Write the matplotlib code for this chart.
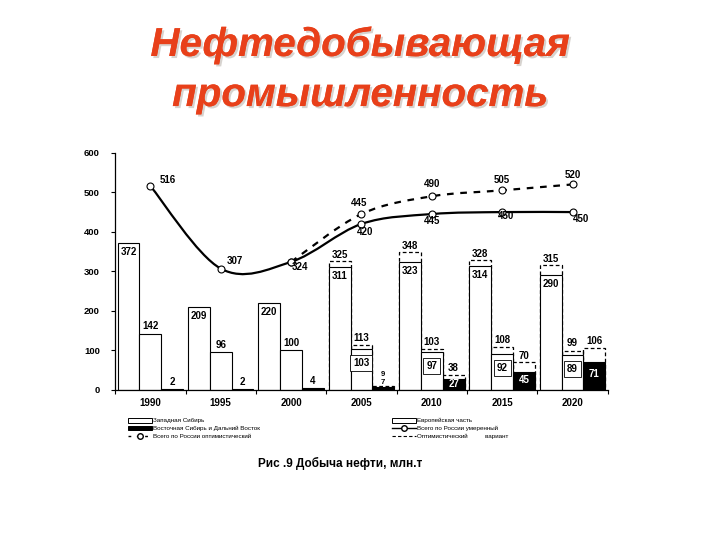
import numpy as np
import matplotlib
matplotlib.use("Agg")
import matplotlib.pyplot as plt
from matplotlib.path import Path
from matplotlib.patches import PathPatch, Patch
from matplotlib.lines import Line2D
import matplotlib.patheffects as pe

plt.rcParams['font.family'] = ['Liberation Sans', 'DejaVu Sans']

years = ['1990', '1995', '2000', '2005', '2010', '2015', '2020']
west = [372, 209, 220, 311, 323, 314, 290]
west_opt = [None, None, None, 325, 348, 328, 315]
europe = [142, 96, 100, 103, 97, 92, 89]
europe_opt = [None, None, None, 113, 103, 108, 99]
east = [2, 2, 4, 7, 27, 45, 71]
east_opt = [None, None, None, 9, 38, 70, 106]
total_mod = [516, 307, 324, 420, 445, 450, 450]
total_opt = [None, None, 324, 445, 490, 505, 520]

fig = plt.figure(figsize=(7.2, 5.4), dpi=100)
ax = fig.add_axes([0.160, 0.278, 0.684, 0.439])
x = np.arange(len(years))
w = 0.31
offs = [-w, 0, w]

# optimistic (dashed) bars drawn first, then the moderate bars on top
for off, opt in zip(offs, [west_opt, europe_opt, east_opt]):
    for i, v in enumerate(opt):
        if v is not None:
            ax.bar(x[i] + off, v, w, fill=False, edgecolor='black', lw=0.9, ls=(0, (3, 2)), zorder=1)
ax.bar(x + offs[0], west, w, color='white', edgecolor='black', lw=0.8, zorder=2)
ax.bar(x + offs[1], europe, w, color='white', edgecolor='black', lw=0.8, zorder=2)
ax.bar(x + offs[2], east, w, color='black', edgecolor='black', lw=0.8, zorder=2)

fs = 7
tk = dict(fontsize=fs, fontweight='bold', ha='center', zorder=5)
for i in range(len(years)):
    ax.text(x[i] + offs[0], west[i] - 23, str(west[i]), va='center', **tk)
    if west_opt[i] is not None:
        ax.text(x[i] + offs[0], west_opt[i] + 4, str(west_opt[i]), va='bottom', **tk)
    if europe_opt[i] is None:
        ax.text(x[i] + offs[1], europe[i] + 6, str(europe[i]), va='bottom', **tk)
    else:
        ax.text(x[i] + offs[1], europe[i] - 36, str(europe[i]), va='center',
                bbox=dict(boxstyle='square,pad=0.3', fc='white', ec='black', lw=0.6), **tk)
        ax.text(x[i] + offs[1], europe_opt[i] + 6, str(europe_opt[i]), va='bottom', **tk)
    if east_opt[i] is None:
        ax.text(x[i] + offs[2], east[i] + 6, str(east[i]), va='bottom', **tk)
    elif i == 3:
        small = dict(tk, fontsize=5.5)
        ax.text(x[i] + offs[2], 10, str(east[i]), va='bottom', **small)
        ax.text(x[i] + offs[2], 30, str(east_opt[i]), va='bottom', **small)
    else:
        ax.text(x[i] + offs[2], east[i] * 0.55, str(east[i]), va='center', color='white', **tk)
        ax.text(x[i] + offs[2], east_opt[i] + 4, str(east_opt[i]), va='bottom', **tk)


def smooth(ax, xs, ys, **kw):
    # Catmull-Rom through the data points, drawn as cubic Bezier segments
    p = np.column_stack([xs, ys]).astype(float)
    verts, codes = [p[0]], [Path.MOVETO]
    for k in range(len(p) - 1):
        p0 = p[k - 1] if k > 0 else p[k]
        p3 = p[k + 2] if k + 2 < len(p) else p[k + 1]
        c1 = p[k] + (p[k + 1] - p0) / 6
        c2 = p[k + 1] - (p3 - p[k]) / 6
        verts += [c1, c2, p[k + 1]]
        codes += [Path.CURVE4] * 3
    ax.add_patch(PathPatch(Path(verts, codes), fill=False, **kw))


ox = [x[i] for i, v in enumerate(total_opt) if v is not None]
oy = [v for v in total_opt if v is not None]
smooth(ax, ox, oy, ec='black', lw=1.6, ls=(0, (3, 3)), zorder=3)
ax.plot(ox, oy, 'o', mfc='white', mec='black', ms=5, mew=0.8, zorder=4)
smooth(ax, x, total_mod, ec='black', lw=1.6, zorder=3)
ax.plot(x, total_mod, 'o', mfc='white', mec='black', ms=5, mew=0.8, zorder=4)

mod_lab = [(0.25, 531), (0.2, 325), (0.12, 312), (0.05, 399), (0.0, 427), (0.05, 440), (0.12, 432)]
for i, (dx, yy) in enumerate(mod_lab):
    ax.text(x[i] + dx, yy, str(total_mod[i]), va='center', **tk)
opt_lab = [None, None, None, (-0.03, 474), (0.0, 521), (0.0, 532), (0.0, 545)]
for i, pos in enumerate(opt_lab):
    if pos is not None:
        ax.text(x[i] + pos[0], pos[1], str(total_opt[i]), va='center', **tk)

ax.set_xlim(-0.5, len(years) - 0.5)
ax.set_ylim(0, 600)
ax.set_yticks(range(0, 601, 100))
ax.set_xticks(x)
ax.set_xticklabels(years, fontsize=7, fontweight='bold')
ax.set_xticks(np.arange(-0.5, len(years)), minor=True)
ax.tick_params(axis='x', which='major', length=0, pad=6)
ax.tick_params(axis='x', which='minor', length=3, direction='out', width=0.8)
ax.tick_params(axis='y', length=3, width=0.8, labelsize=6.8, pad=8)
for lab in ax.get_yticklabels():
    lab.set_fontweight('bold')
for s in ['top', 'right']:
    ax.spines[s].set_visible(False)
for s in ['left', 'bottom']:
    ax.spines[s].set_linewidth(0.9)

leg_kw = dict(frameon=False, fontsize=4.5, handlelength=3.8, handleheight=0.8,
              labelspacing=0.35, handletextpad=0.2, borderpad=0, loc='upper left')
h1 = [Patch(fc='white', ec='black', lw=0.7),
      Patch(fc='black', ec='black', lw=0.7),
      Line2D([], [], color='black', ls=(0, (2, 4)), lw=1, marker='o', mfc='white', mec='black', ms=4)]
fig.legend(h1, ['Западная Сибирь', 'Восточная Сибирь и Дальний Восток', 'Всего по России оптимистический'],
           bbox_to_anchor=(0.174, 0.232), **leg_kw)
h2 = [Patch(fc='white', ec='black', lw=0.7),
      Line2D([], [], color='black', lw=1, marker='o', mfc='white', mec='black', ms=4),
      Line2D([], [], color='black', ls=(0, (3, 2)), lw=0.8)]
fig.legend(h2, ['Европейская часть', 'Всего по России умеренный', 'Оптимистический          вариант'],
           bbox_to_anchor=(0.540, 0.232), **leg_kw)

fig.text(0.472, 0.141, 'Рис .9 Добыча нефти, млн.т', ha='center', va='center', fontsize=8.5, fontweight='bold')

shadow = [pe.withSimplePatchShadow(offset=(1.5, -1.5), shadow_rgbFace='#b0a8a0', alpha=0.5), pe.Normal()]
for yy, t in [(0.917, 'Нефтедобывающая'), (0.824, 'промышленность')]:
    fig.text(0.5, yy, t, ha='center', va='center', fontsize=29, fontweight='bold', fontstyle='italic',
             color='#e8401a', path_effects=shadow)

fig.savefig('out.png', dpi=100)
